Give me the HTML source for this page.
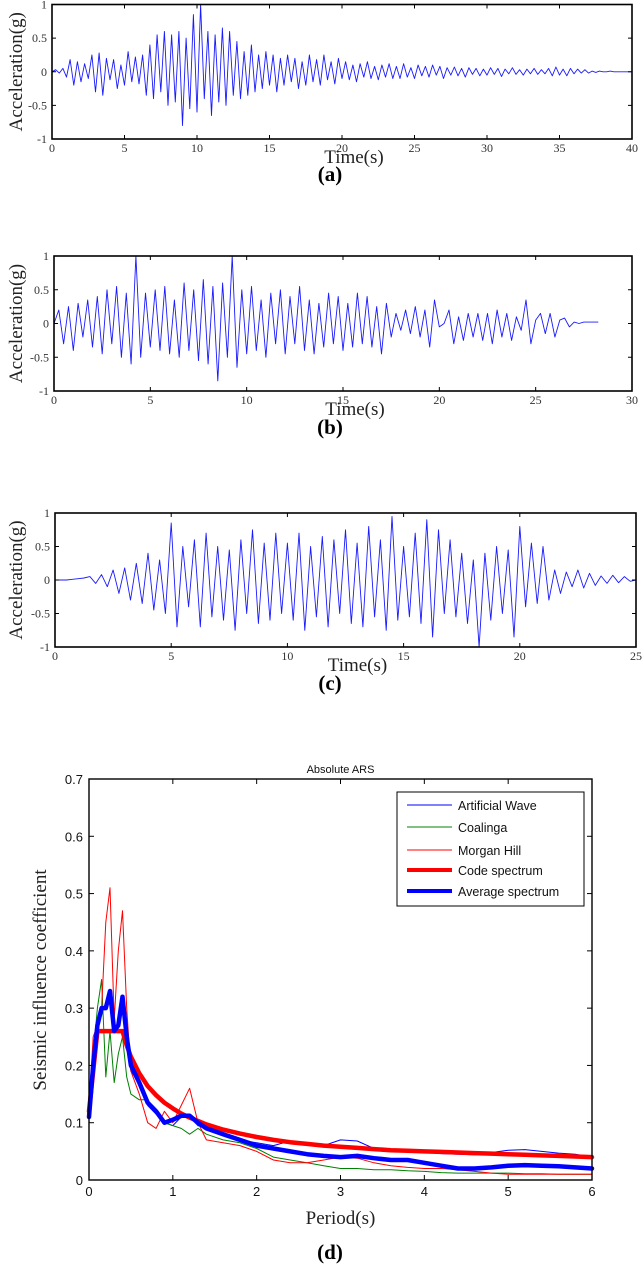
<!DOCTYPE html>
<html><head><meta charset="utf-8"><style>
html,body{margin:0;padding:0;background:#fff;}
svg{display:block;}
.ser{font-family:"Liberation Serif",serif;}
.sans{font-family:"Liberation Sans",sans-serif;}
</style></head><body>
<svg id="fig" width="642" height="1273" viewBox="0 0 642 1273" xmlns="http://www.w3.org/2000/svg"></svg>
<script>
const accA=[0,0.03,-0.02,0.05,-0.08,0.18,-0.2,0.15,-0.15,0.12,-0.1,0.25,-0.3,0.28,-0.35,0.2,-0.12,0.18,-0.25,0.1,-0.2,0.3,-0.15,0.22,-0.18,0.25,-0.35,0.4,-0.4,0.55,-0.3,0.6,-0.5,0.55,-0.45,0.6,-0.8,0.5,-0.55,0.85,-0.6,1.0,-0.4,0.6,-0.65,0.55,-0.45,0.65,-0.5,0.6,-0.35,0.45,-0.4,0.3,-0.35,0.4,-0.3,0.25,-0.25,0.3,-0.2,0.25,-0.3,0.2,-0.2,0.25,-0.15,0.2,-0.25,0.15,-0.2,0.25,-0.15,0.18,-0.2,0.25,-0.12,0.15,-0.18,0.2,-0.1,0.15,-0.12,0.1,-0.15,0.12,-0.08,0.15,-0.1,0.08,-0.12,0.1,-0.08,0.12,-0.1,0.08,-0.1,0.12,-0.08,0.06,-0.1,0.1,-0.06,0.08,-0.08,0.1,-0.05,0.08,-0.1,0.06,-0.05,0.07,-0.06,0.05,-0.08,0.06,-0.04,0.05,-0.06,0.04,-0.05,0.06,-0.04,0.05,-0.07,0.04,-0.03,0.06,-0.04,0.03,-0.05,0.04,-0.03,0.05,-0.04,0.03,-0.03,0.05,-0.06,0.07,-0.05,0.04,-0.06,0.05,-0.03,0.04,-0.02,0.03,-0.02,0.01,-0.01,0.01,0,0,0.01,0,0,0,0,0,0];
const accB=[0,0.2,-0.3,0.25,-0.4,0.3,-0.2,0.35,-0.35,0.4,-0.45,0.5,-0.3,0.55,-0.5,0.45,-0.6,1.0,-0.5,0.45,-0.35,0.5,-0.4,0.55,-0.45,0.35,-0.5,0.6,-0.4,0.5,-0.55,0.65,-0.6,0.55,-0.85,0.6,-0.5,1.0,-0.65,0.5,-0.45,0.55,-0.4,0.35,-0.5,0.45,-0.3,0.5,-0.45,0.4,-0.3,0.55,-0.4,0.35,-0.45,0.3,-0.35,0.45,-0.3,0.4,-0.4,0.3,-0.35,0.45,-0.3,0.4,-0.35,0.25,-0.45,0.3,-0.2,0.15,-0.1,0.2,-0.15,0.25,-0.2,0.2,-0.35,0.35,-0.05,0.0,0.2,-0.3,0.1,-0.25,0.15,-0.2,0.15,-0.25,0.15,-0.3,0.2,-0.2,0.15,-0.25,0.1,-0.1,0.35,-0.3,0.05,0.15,-0.15,0.15,-0.2,0.05,0.08,-0.05,0.02,0,0.02,0.02,0.02,0.02];
const accC=[0,0,0,0.01,0.02,0.03,0.05,-0.05,0.08,-0.1,0.15,-0.2,0.18,-0.3,0.25,-0.35,0.4,-0.45,0.3,-0.5,0.85,-0.7,0.5,-0.4,0.6,-0.7,0.7,-0.55,0.5,-0.6,0.45,-0.75,0.6,-0.5,0.75,-0.65,0.55,-0.6,0.7,-0.5,0.55,-0.6,0.7,-0.75,0.5,-0.55,0.65,-0.7,0.6,-0.5,0.75,-0.65,0.55,-0.7,0.8,-0.55,0.6,-0.75,0.95,-0.6,0.5,-0.55,0.7,-0.65,0.9,-0.85,0.75,-0.5,0.6,-0.55,0.4,-0.65,0.3,-1.0,0.4,-0.6,0.5,-0.5,0.45,-0.85,0.8,-0.4,0.55,-0.35,0.5,-0.3,0.15,-0.2,0.12,-0.1,0.15,-0.12,0.1,-0.08,0.06,-0.05,0.07,-0.04,0.05,-0.02,0.0];
const periods=[0,0.05,0.1,0.15,0.2,0.25,0.3,0.35,0.4,0.45,0.5,0.6,0.7,0.8,0.9,1.0,1.1,1.2,1.3,1.4,1.6,1.8,2.0,2.2,2.4,2.6,2.8,3.0,3.2,3.4,3.6,3.8,4.0,4.2,4.4,4.6,4.8,5.0,5.2,5.4,5.6,5.8,6.0];
const codeSpec=[0.12,0.19,0.26,0.26,0.26,0.26,0.26,0.26,0.26,0.235,0.215,0.186,0.164,0.148,0.135,0.125,0.116,0.109,0.103,0.097,0.088,0.081,0.075,0.07,0.066,0.063,0.06,0.058,0.056,0.054,0.052,0.051,0.05,0.049,0.048,0.047,0.046,0.045,0.044,0.043,0.042,0.041,0.04];
const artSpec=[0.11,0.2,0.28,0.29,0.31,0.33,0.26,0.27,0.32,0.26,0.19,0.17,0.13,0.115,0.1,0.095,0.11,0.11,0.095,0.09,0.08,0.07,0.065,0.06,0.068,0.065,0.06,0.07,0.068,0.055,0.05,0.052,0.05,0.046,0.045,0.044,0.048,0.052,0.053,0.05,0.047,0.045,0.04];
const coaSpec=[0.12,0.22,0.3,0.35,0.18,0.26,0.17,0.22,0.25,0.18,0.15,0.14,0.14,0.12,0.1,0.095,0.09,0.08,0.09,0.08,0.07,0.065,0.055,0.04,0.035,0.03,0.025,0.02,0.02,0.018,0.018,0.016,0.015,0.013,0.012,0.012,0.012,0.012,0.011,0.011,0.01,0.01,0.01];
const morSpec=[0.13,0.25,0.27,0.3,0.45,0.51,0.28,0.4,0.47,0.3,0.19,0.15,0.1,0.09,0.12,0.1,0.13,0.16,0.1,0.07,0.065,0.06,0.05,0.035,0.03,0.03,0.035,0.04,0.038,0.03,0.025,0.022,0.02,0.02,0.018,0.015,0.012,0.01,0.01,0.01,0.01,0.01,0.01];
const avgSpec=[0.11,0.2,0.27,0.3,0.3,0.33,0.26,0.27,0.32,0.25,0.2,0.17,0.135,0.12,0.1,0.105,0.112,0.112,0.1,0.09,0.08,0.07,0.06,0.055,0.05,0.045,0.042,0.04,0.042,0.038,0.035,0.035,0.03,0.025,0.02,0.02,0.022,0.025,0.026,0.025,0.024,0.022,0.02];
const accTicks=[-1,-0.5,0,0.5,1];
const accTickLabels=["-1","-0.5","0","0.5","1"];
const specYTicks=[0,0.1,0.2,0.3,0.4,0.5,0.6,0.7];
const specXTicks=[0,1,2,3,4,5,6];

const NS="http://www.w3.org/2000/svg";
const svg=document.getElementById('fig');
function mk(tag,attrs,parent){const e=document.createElementNS(NS,tag);for(const k in attrs)e.setAttribute(k,attrs[k]);(parent||svg).appendChild(e);return e;}
function txt(s,attrs,parent){const e=mk('text',attrs,parent);e.textContent=s;return e;}

function accPanel(name,L,R,T,B,xmax,xstep,data,dt,label,labelY){
  const g=mk('g',{});
  
  
  const sx=v=>L+(R-L)*v/xmax, sy=v=>B-(B-T)*(v+1)/2;
  const pts=data.map((v,i)=>sx(i*dt).toFixed(1)+','+sy(v).toFixed(1)).join(' ');
  const line=mk('polyline',{points:pts,fill:'none',stroke:'#1a1aff','stroke-width':0.9,'stroke-linejoin':'round'},g);
  
  
  const box=mk('rect',{x:L,y:T,width:R-L,height:B-T,fill:'none',stroke:'#000','stroke-width':1.6},g);
  
  
  accTicks.forEach((t,i)=>{const y=sy(t);
    mk('line',{x1:L,x2:L+4,y1:y,y2:y,stroke:'#000'},g);mk('line',{x1:R,x2:R-4,y1:y,y2:y,stroke:'#000'},g);
    const tl=txt(accTickLabels[i],{x:L-5,y:y+4,'text-anchor':'end','font-size':12,fill:'#333',class:'ser'},g);
    
    });
  for(let t=0;t<=xmax;t+=xstep){const x=sx(t);
    mk('line',{x1:x,x2:x,y1:B,y2:B-4,stroke:'#000'},g);mk('line',{x1:x,x2:x,y1:T,y2:T+4,stroke:'#000'},g);
    const tl=txt(String(t),{x:x,y:B+13,'text-anchor':'middle','font-size':12,fill:'#333',class:'ser'},g);
    
    }
  const xt=txt('Time(s)',{x:(L+R)/2+12,y:B+24,'text-anchor':'middle','font-size':19,fill:'#222',class:'ser'},g);
  
  
  const cy=(T+B)/2;
  const yt=txt('Acceleration(g)',{x:0,y:0,transform:`translate(22,${cy}) rotate(-90)`,'text-anchor':'middle','font-size':19,fill:'#222',class:'ser'},g);
  
  
  const pl=txt(label,{x:330,y:labelY,'text-anchor':'middle','font-size':21,'font-weight':'bold',fill:'#000',class:'ser'},g);
  
  
}
accPanel('panel-a',52,632,4.5,139,40,5,accA,0.25,'(a)',181);
accPanel('panel-b',54,632,256,391,30,5,accB,0.25,'(b)',434);
accPanel('panel-c',55,636,513,647,25,5,accC,0.25,'(c)',690);

// Panel d
(function(){
  const L=89,R=592,T=779,B=1180;
  const g=mk('g',{});
  
  
  const sx=v=>L+(R-L)*v/6, sy=v=>B-(B-T)*v/0.7;
  function series(arr,color,w,name){
    const pts=arr.map((v,i)=>sx(periods[i]).toFixed(1)+','+sy(v).toFixed(1)).join(' ');
    const p=mk('polyline',{points:pts,fill:'none',stroke:color,'stroke-width':w,'stroke-linejoin':'round','stroke-linecap':'round'},g);
    
    
  }
  series(artSpec,'#0000ff',1,'artificial-wave-line');
  series(coaSpec,'#008000',1,'coalinga-line');
  series(morSpec,'#ff0000',1,'morgan-hill-line');
  series(codeSpec,'#ff0000',4.5,'code-spectrum-line');
  series(avgSpec,'#0000ff',4.5,'average-spectrum-line');
  const box=mk('rect',{x:L,y:T,width:R-L,height:B-T,fill:'none',stroke:'#000','stroke-width':1.4},g);
  
  
  specYTicks.forEach(t=>{const y=sy(t);
    mk('line',{x1:L,x2:L+5,y1:y,y2:y,stroke:'#000'},g);mk('line',{x1:R,x2:R-5,y1:y,y2:y,stroke:'#000'},g);
    const tl=txt(String(t),{x:L-6,y:y+5,'text-anchor':'end','font-size':13,fill:'#111',class:'sans'},g);
    
    });
  specXTicks.forEach(t=>{const x=sx(t);
    mk('line',{x1:x,x2:x,y1:B,y2:B-5,stroke:'#000'},g);mk('line',{x1:x,x2:x,y1:T,y2:T+5,stroke:'#000'},g);
    const tl=txt(String(t),{x:x,y:B+16,'text-anchor':'middle','font-size':13,fill:'#111',class:'sans'},g);
    
    });
  const tt=txt('Absolute ARS',{x:(L+R)/2,y:773,'text-anchor':'middle','font-size':11,fill:'#111',class:'sans'},g);
  
  
  const xt=txt('Period(s)',{x:(L+R)/2,y:1224,'text-anchor':'middle','font-size':19,fill:'#222',class:'ser'},g);
  
  
  const yt=txt('Seismic influence coefficient',{x:0,y:0,transform:'translate(46,980) rotate(-90)','text-anchor':'middle','font-size':19,fill:'#222',class:'ser'},g);
  
  
  const pl=txt('(d)',{x:330,y:1259,'text-anchor':'middle','font-size':21,'font-weight':'bold',fill:'#000',class:'ser'},g);
  
  
  // legend
  const lg=mk('g',{},g);
  
  
  mk('rect',{x:397,y:792,width:187,height:114,fill:'#fff',stroke:'#000','stroke-width':1},lg);
  const names=['Artificial Wave','Coalinga','Morgan Hill','Code spectrum','Average spectrum'];
  const cols=['#0000ff','#008000','#ff0000','#ff0000','#0000ff'];
  const ws=[1,1,1,4,4];
  const ys=[805,827,850,870,891];
  names.forEach((n,i)=>{
    const e=mk('g',{},lg);
    
    
    mk('line',{x1:407,x2:452,y1:ys[i],y2:ys[i],stroke:cols[i],'stroke-width':ws[i]},e);
    txt(n,{x:458,y:ys[i]+5,'font-size':12.5,fill:'#111',class:'sans'},e);
  });
})();
</script>
</body></html>
